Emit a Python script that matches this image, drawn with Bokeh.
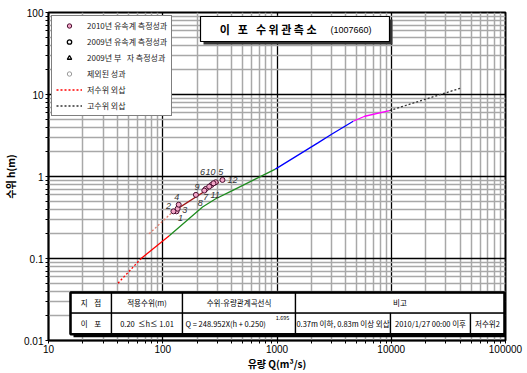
from bokeh.plotting import figure
from bokeh.models import (FixedTicker, CustomJSTickFormatter, Legend, LegendItem,
                          BoxAnnotation, Label, ColumnDataSource)
from bokeh.core.properties import value
from bokeh.embed import file_html
from bokeh.resources import INLINE

KR = "Noto Sans CJK KR"
NUM = "Liberation Sans"
NB = "\u00a0"
NAN = float("nan")

# ---------------- data ----------------
low_ext_q = [40.6, 64.7]
low_ext_h = [0.050, 0.100]
red_q = [64.7, 114]
red_h = [0.100, 0.190]
green_q = [114, 223, 291, 406, 967]
green_h = [0.190, 0.425, 0.535, 0.673, 1.23]
blue_q = [967, 2300, 3006, 4645]
blue_h = [1.23, 2.59, 3.27, 4.72]
magenta_q = [4645, 5860, 9660]
magenta_h = [4.72, 5.43, 6.37]
high_ext_q = [9660, 40600]
high_ext_h = [6.37, 11.97]
curve2010_q = [122, 310]
curve2010_h = [0.37, 0.85]
curve2010_ext_q = [76, 122]
curve2010_ext_h = [0.20, 0.37]

meas_no = ["1", "2", "3", "4", "5", "6", "7", "8", "9", "10", "11", "12"]
meas_q = [132, 124, 135, 138, 291, 267, 238, 231, 195, 278, 255, 333]
meas_h = [0.376, 0.376, 0.405, 0.453, 0.851, 0.789, 0.706, 0.673, 0.597, 0.826, 0.753, 0.908]

x_major = [10, 100, 1000, 10000, 100000]
y_major = [0.01, 0.1, 1, 10, 100]

x_title = "유량 Q(m³/s)"
y_title = "수위 h(m)"
legend_labels = ["2010년 유속계 측정성과", "2009년 유속계 측정성과",
                 "2009년 부" + NB * 3 + "자 측정성과", "제외된 성과", "저수위 외삽", "고수위 외삽"]
BIG, SMALL = "\u2002" + NB, NB
title_main = "이" + BIG + "포" + BIG + SMALL.join(["수", "위", "관", "측", "소"])
title_code = "(1007660)"
table_header = ["지" + NB * 4 + "점", "적용수위(m)", "수위-유량관계곡선식", "비고"]
table_row = ["이" + NB * 4 + "포", "0.20" + NB * 2 + "≤h≤ 1.01", "Q = 248.952X(h + 0.250)",
             "0.37m 이하, 0.83m 이상 외삽", "2010/1/27 00:00 이후", "저수위2"]
table_exp = "1.695"

# label offsets (style)
label_dx = [4, -5, 7, -2, 5, -9, 0, -4, 1, -3, 6, 10]
label_dy = [7, -5, 1, -8, -10, -13, 8, 12, -8, -11, 8, 0]

# ---------------- figure ----------------
p = figure(width=527, height=373, x_axis_type="log", y_axis_type="log",
           x_range=(10, 100000), y_range=(0.01, 100),
           output_backend="svg", toolbar_location=None,
           min_border_left=45, min_border_right=22, min_border_top=12, min_border_bottom=30)
p.background_fill_color = "white"
p.border_fill_color = "white"
p.outline_line_color = "black"
p.outline_line_width = 2

x_minor = [d * k for d in x_major[:-1] for k in range(2, 10)]
y_minor = [d * k for d in y_major[:-1] for k in range(2, 10)]
p.xaxis.ticker = FixedTicker(ticks=x_major, minor_ticks=x_minor)
p.yaxis.ticker = FixedTicker(ticks=y_major, minor_ticks=y_minor)
fmt = CustomJSTickFormatter(code="return tick.toString()")
p.xaxis.formatter = fmt
p.yaxis.formatter = fmt

for ax in (p.xaxis, p.yaxis):
    ax.major_label_text_font = NUM
    ax.major_label_text_font_size = "10px"
    ax.major_label_text_color = "black"
    ax.axis_line_color = "black"
    ax.axis_line_width = 1.5
    ax.major_tick_out = 3
    ax.major_tick_in = 0
    ax.minor_tick_out = 3
    ax.minor_tick_in = 0
    ax.major_tick_line_color = "black"
    ax.minor_tick_line_color = "black"
    ax.major_label_standoff = 2
    ax.axis_label_text_font = KR
    ax.axis_label_text_font_size = "10px"
    ax.axis_label_text_font_style = "bold"
    ax.axis_label_text_color = "black"
    ax.axis_label_standoff = 0
p.xaxis.axis_label = x_title
p.yaxis.axis_label = y_title
p.xaxis.major_label_standoff = 1
p.yaxis.axis_label_standoff = 3

for g in (p.xgrid, p.ygrid):
    g.grid_line_color = "black"
    g.grid_line_width = 1.3
    g.minor_grid_line_color = "#a8a8a8"
    g.minor_grid_line_width = 1.5

# ---------------- curves ----------------
r_low = p.line(low_ext_q, low_ext_h, line_color="red", line_dash="2 2", line_width=1.3)
p.line(red_q, red_h, line_color="red", line_width=1.3)
p.line(green_q, green_h, line_color="#1e8c1e", line_width=1.3)
p.line(blue_q, blue_h, line_color="#0000ff", line_width=1.3)
p.line(magenta_q, magenta_h, line_color="#ff00ff", line_width=1.3)
r_high = p.line(high_ext_q, high_ext_h, line_color="#333333", line_dash="2 2", line_width=1.3)
p.line(curve2010_ext_q, curve2010_ext_h, line_color="#e07a6a", line_dash="2 2", line_width=1.3)
p.line(curve2010_q, curve2010_h, line_color="#a01818", line_width=1.3)

src = ColumnDataSource(dict(q=meas_q, h=meas_h, t=meas_no, dx=label_dx, dy=label_dy))
r_2010 = p.scatter("q", "h", source=src, size=5, fill_color="#f4a6c8",
                   line_color="#4a1030", line_width=1)
p.text("q", "h", text="t", source=src, x_offset="dx", y_offset="dy",
       text_font=value(NUM), text_font_style="italic", text_font_size="9px",
       text_color="#333333", text_align="center", text_baseline="middle")

r_2009 = p.scatter([NAN], [NAN], marker="circle", size=5, fill_color=None,
                   line_color="black", line_width=1.3)
r_buja = p.scatter([NAN], [NAN], marker="triangle", size=6, fill_color=None,
                   line_color="black", line_width=1.3)
r_excl = p.scatter([NAN], [NAN], marker="circle", size=5, fill_color=None,
                   line_color="#999999", line_width=1)

legend = Legend(items=[LegendItem(label=legend_labels[0], renderers=[r_2010]),
                       LegendItem(label=legend_labels[1], renderers=[r_2009]),
                       LegendItem(label=legend_labels[2], renderers=[r_buja]),
                       LegendItem(label=legend_labels[3], renderers=[r_excl]),
                       LegendItem(label=legend_labels[4], renderers=[r_low]),
                       LegendItem(label=legend_labels[5], renderers=[r_high])],
                location="top_left")
legend.label_text_font = KR
legend.label_text_font_size = "8px"
legend.label_text_color = "#222222"
legend.border_line_color = "black"
legend.border_line_width = 1.2
legend.background_fill_color = "white"
legend.background_fill_alpha = 1
legend.margin = 3
legend.padding = 4
legend.spacing = 5
legend.label_height = 11
legend.glyph_height = 11
legend.glyph_width = 26
legend.label_standoff = 5
p.add_layout(legend)


# ---------------- helpers for screen-positioned annotations ----------------
def box(l, r, b, t, fill="white", line="black", lw=1.0, fa=1.0):
    p.add_layout(BoxAnnotation(left=l, right=r, bottom=b, top=t,
                               left_units="screen", right_units="screen",
                               bottom_units="screen", top_units="screen",
                               fill_color=fill, fill_alpha=fa,
                               line_color=line, line_width=lw,
                               line_alpha=1.0 if line else 0.0))


def label(x, y, text, size="7.5px", align="center", bold=False, font=KR):
    p.add_layout(Label(x=x, y=y, x_units="screen", y_units="screen", text=text,
                       text_font=font, text_font_size=size,
                       text_font_style="bold" if bold else "normal",
                       text_align=align, text_baseline="middle", text_color="black"))


# ---------------- title box ----------------
box(155, 344, 296, 321, fill="#333333", line=None)
box(152, 341, 299, 324, fill="white", line="black", lw=1.2)
label(268, 311.5, title_main, size="11px", align="right", bold=True)
label(282, 311, title_code, size="9px", align="left", font=NUM)

# ---------------- table ----------------
hx = [22, 63, 134, 247, 456]
rx = [22, 63, 134, 247, 342, 422, 456]
y0, y1, y2 = 6.3, 27.3, 48
box(hx[0] + 3, hx[-1] + 3, y0 - 3, y2 - 3, fill="black", line=None)
for i in range(len(hx) - 1):
    box(hx[i], hx[i + 1], y1, y2, lw=1.3)
for i in range(len(rx) - 1):
    box(rx[i], rx[i + 1], y0, y1, lw=1.3)
box(hx[0], hx[-1], y0, y2, fill=None, fa=0, lw=2.5)

yc_h = (y1 + y2) / 2
yc_r = (y0 + y1) / 2
for i, t in enumerate(table_header):
    label((hx[i] + hx[i + 1]) / 2, yc_h, t)
for i, t in enumerate(table_row):
    if i == 2:
        label(rx[i] + 3, yc_r, t, align="left")
    else:
        label((rx[i] + rx[i + 1]) / 2, yc_r, t)
label(234, 23.5, table_exp, size="5.5px")

open("out.html", "w").write(file_html(p, INLINE))
